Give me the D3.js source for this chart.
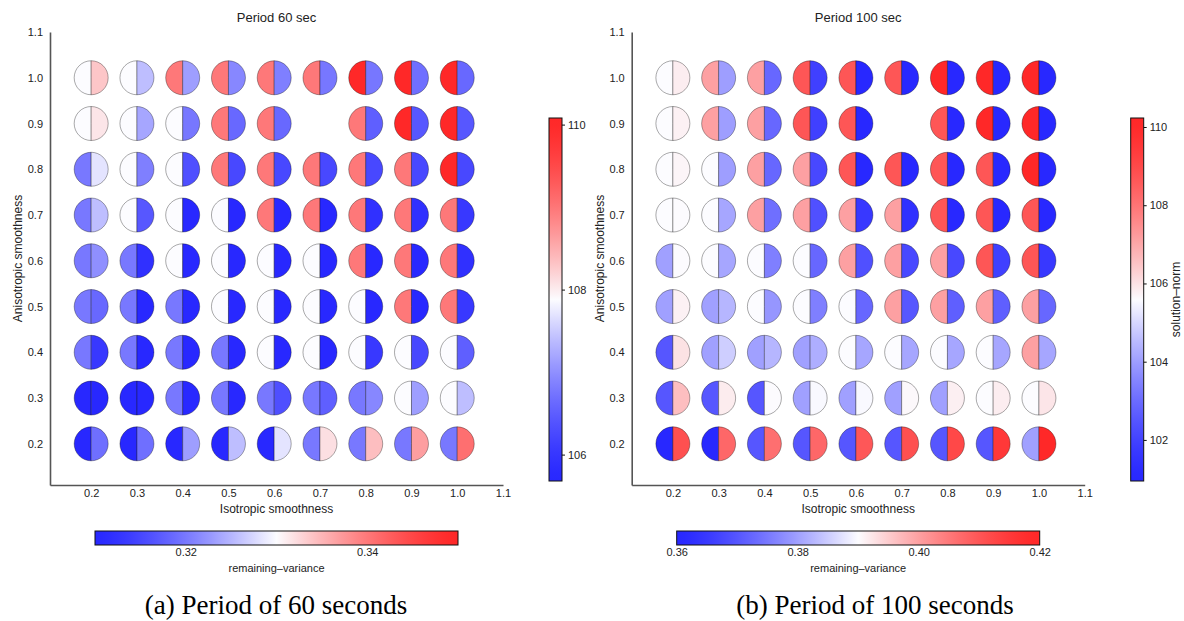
<!DOCTYPE html>
<html><head><meta charset="utf-8">
<script src="https://cdn.jsdelivr.net/npm/d3@7"></script>
<style>
body{margin:0;background:#fff;}
svg{display:block;}
text{font-family:"Liberation Sans",Arial,sans-serif;fill:#222;}
.cap{font-family:"Liberation Serif","Times New Roman",serif;fill:#000;}
</style></head>
<body>
<svg id="chart" width="1184" height="621"></svg>
<script>
// ---------- data ----------
const isoValues = [0.2,0.3,0.4,0.5,0.6,0.7,0.8,0.9,1.0];      // columns (x)
const anisoValues = [1.0,0.9,0.8,0.7,0.6,0.5,0.4,0.3,0.2];    // rows (y), top to bottom
const axisTicks = [0.2,0.3,0.4,0.5,0.6,0.7,0.8,0.9,1.0,1.1];

// Period 60 s : remaining-variance (left half)
const variance60 = [
 [0.33,0.33,0.34,0.34,0.34,0.34,0.35,0.35,0.35],
 [0.33,0.33,0.33,0.34,0.34,null,0.34,0.35,0.35],
 [0.32,0.33,0.33,0.34,0.34,0.34,0.34,0.34,0.35],
 [0.32,0.33,0.33,0.33,0.34,0.34,0.34,0.34,0.34],
 [0.32,0.32,0.33,0.33,0.33,0.33,0.34,0.34,0.34],
 [0.32,0.32,0.32,0.33,0.33,0.33,0.33,0.34,0.34],
 [0.32,0.32,0.32,0.32,0.33,0.33,0.33,0.33,0.33],
 [0.31,0.31,0.32,0.32,0.32,0.32,0.32,0.33,0.33],
 [0.31,0.31,0.31,0.31,0.31,0.32,0.32,0.32,0.32]
];
// Period 60 s : solution-norm (right half)
const norm60 = [
 [108.30,107.40,107.13,106.92,106.84,106.77,106.77,106.69,106.61],
 [108.05,107.20,106.77,106.61,106.61,null,106.52,106.43,106.43],
 [107.70,106.84,106.34,106.25,106.25,106.25,106.25,106.25,106.25],
 [107.40,106.43,105.70,105.70,105.70,105.70,105.89,105.89,106.02],
 [106.99,105.89,105.70,105.70,105.70,105.70,105.70,105.70,105.89],
 [106.61,105.70,105.70,105.70,105.70,105.70,105.70,105.70,106.02],
 [106.02,105.70,105.70,105.70,105.70,105.70,106.02,106.25,106.52],
 [105.70,105.70,105.70,105.70,106.34,106.52,106.92,107.13,107.40],
 [106.69,106.69,107.13,107.40,107.70,108.10,108.36,108.63,109.07]
];
// Period 100 s : remaining-variance (left half)
const variance100 = [
 [0.39,0.40,0.40,0.41,0.41,0.41,0.42,0.42,0.42],
 [0.39,0.40,0.40,0.41,0.41,null,0.41,0.42,0.42],
 [0.39,0.39,0.40,0.40,0.41,0.41,0.41,0.41,0.42],
 [0.39,0.39,0.40,0.40,0.40,0.40,0.41,0.41,0.41],
 [0.38,0.39,0.39,0.39,0.40,0.40,0.40,0.41,0.41],
 [0.38,0.38,0.39,0.39,0.39,0.40,0.40,0.40,0.40],
 [0.37,0.38,0.38,0.38,0.39,0.39,0.39,0.39,0.40],
 [0.37,0.37,0.37,0.38,0.38,0.38,0.38,0.39,0.39],
 [0.36,0.36,0.37,0.37,0.37,0.37,0.37,0.37,0.38]
];
// Period 100 s : solution-norm (right half)
const norm100 = [
 [105.83,104.01,102.90,101.92,101.00,101.00,101.00,101.00,101.00],
 [105.76,104.01,102.90,101.92,101.00,null,101.00,101.00,101.00],
 [105.70,104.01,102.90,102.14,101.00,101.00,101.00,101.00,101.00],
 [105.60,104.15,103.08,102.35,101.67,101.39,101.00,101.00,101.00],
 [105.60,104.15,103.40,102.90,102.35,102.14,102.14,101.92,101.67],
 [105.76,104.43,103.86,103.40,102.90,102.54,102.72,102.72,102.90],
 [106.01,104.84,104.43,104.30,104.15,104.15,104.15,104.15,104.15],
 [106.61,105.85,105.60,105.55,105.55,105.65,105.79,105.83,105.95],
 [108.83,108.28,108.10,108.28,108.64,108.83,109.04,109.51,110.20]
];

const varianceDomain60 = [0.31,0.35];
const varianceTicks60 = [0.32,0.34];
const normDomain60 = [105.68,110.08];
const normTicks60 = [106,108,110];
const varianceDomain100 = [0.36,0.42];
const varianceTicks100 = [0.36,0.38,0.40,0.42];
const normDomain100 = [100.95,110.23];
const normTicks100 = [102,104,106,108,110];

const titles = ["Period 60 sec","Period 100 sec"];
const captions = ["(a) Period of 60 seconds","(b) Period of 100 seconds"];

// ---------- colour map ----------
const BLUE="#2828ff", WHITE="#fcfcff", RED="#ff2828";
const iBlue=d3.interpolateRgb(BLUE,WHITE), iRed=d3.interpolateRgb(RED,WHITE);
function bwr(t){
  t=Math.max(0,Math.min(1,t));
  const g=1.4;
  if(t<0.5) return iBlue(Math.pow(2*t,g));
  return iRed(Math.pow(2*(1-t),g));
}

const panels=[
 {dx:0, title:titles[0], caption:captions[0], capX:276, left:variance60, right:norm60,
  vDom:varianceDomain60, vTicks:varianceTicks60, nDom:normDomain60, nTicks:normTicks60, nLabel:false},
 {dx:581.7, title:titles[1], caption:captions[1], capX:875, left:variance100, right:norm100,
  vDom:varianceDomain100, vTicks:varianceTicks100, nDom:normDomain100, nTicks:normTicks100, nLabel:true}
];

const svg=d3.select("#chart");
const defs=svg.append("defs");
const x=d3.scaleLinear().domain([0.11,1.1]).range([50,503]);
const y=d3.scaleLinear().domain([0.11,1.1]).range([485,32]);
const R=17;
const leftArc=d3.arc().innerRadius(0).outerRadius(R).startAngle(Math.PI).endAngle(2*Math.PI);
const rightArc=d3.arc().innerRadius(0).outerRadius(R).startAngle(0).endAngle(Math.PI);

// gradients
function makeGrad(id,horizontal){
  const g=defs.append("linearGradient").attr("id",id)
    .attr("x1","0%").attr("y1",horizontal?"0%":"100%")
    .attr("x2",horizontal?"100%":"0%").attr("y2","0%");
  d3.range(0,1.0001,0.02).forEach(t=>{
    g.append("stop").attr("offset",(t*100)+"%").attr("stop-color",bwr(t));
  });
}
makeGrad("gradH",true);
makeGrad("gradV",false);

panels.forEach((p,pi)=>{
  const g=svg.append("g").attr("transform",`translate(${p.dx},0)`);
  const cLeft=d3.scaleDiverging(bwr).domain([p.vDom[0],(p.vDom[0]+p.vDom[1])/2,p.vDom[1]]);
  const cRight=d3.scaleDiverging(bwr).domain([p.nDom[0],(p.nDom[0]+p.nDom[1])/2,p.nDom[1]]);

  // title
  g.append("text").attr("x",276.5).attr("y",22).attr("text-anchor","middle")
    .style("font-size","13px").text(p.title);

  // axes
  const ax=g.append("g").attr("transform","translate(0,485)")
    .call(d3.axisBottom(x).tickValues(axisTicks).tickFormat(d3.format(".1f")).tickSize(0).tickPadding(4));
  const ay=g.append("g").attr("transform","translate(50,0)")
    .call(d3.axisLeft(y).tickValues(axisTicks).tickFormat(d3.format(".1f")).tickSize(0).tickPadding(7));
  [ax,ay].forEach(a=>{
    a.select(".domain").attr("stroke","#555").attr("stroke-width",1.6);
    a.selectAll("text").style("font-size","11px").attr("fill","#222")
      .style("font-family","'Liberation Sans',Arial,sans-serif");
  });
  g.append("text").attr("x",276.5).attr("y",513).attr("text-anchor","middle")
    .style("font-size","12px").text("Isotropic smoothness");
  g.append("text").attr("transform","translate(22,258.5) rotate(-90)").attr("text-anchor","middle")
    .style("font-size","12px").text("Anisotropic smoothness");

  // cells
  const cells=[];
  anisoValues.forEach((yv,ri)=>isoValues.forEach((xv,ci)=>{
    const l=p.left[ri][ci], r=p.right[ri][ci];
    if(l!=null && r!=null) cells.push({xv,yv,l,r});
  }));
  const cg=g.selectAll("g.cell").data(cells).join("g").attr("class","cell")
    .attr("transform",d=>`translate(${x(d.xv)},${y(d.yv)})`);
  cg.append("path").attr("d",leftArc()).attr("fill",d=>cLeft(d.l))
    .attr("stroke","rgba(0,0,0,0.42)").attr("stroke-width",0.8);
  cg.append("path").attr("d",rightArc()).attr("fill",d=>cRight(d.r))
    .attr("stroke","rgba(0,0,0,0.42)").attr("stroke-width",0.8);

  // right colourbar (solution-norm)
  const ny=d3.scaleLinear().domain(p.nDom).range([481,118]);
  g.append("rect").attr("x",549).attr("y",118).attr("width",13).attr("height",363)
    .attr("fill","url(#gradV)").attr("stroke","#111").attr("stroke-width",1);
  const nax=g.append("g").attr("transform","translate(562,0)")
    .call(d3.axisRight(ny).tickValues(p.nTicks).tickFormat(d3.format("d")).tickSize(3).tickPadding(3));
  nax.select(".domain").remove();
  nax.selectAll("line").attr("stroke","#111");
  nax.selectAll("text").style("font-size","11px").attr("fill","#222")
    .style("font-family","'Liberation Sans',Arial,sans-serif");
  if(p.nLabel){
    g.append("text").attr("transform","translate(598,299.5) rotate(-90)").attr("text-anchor","middle")
      .style("font-size","12px").text("solution\u2013norm");
  }

  // bottom colourbar (remaining-variance)
  const vx=d3.scaleLinear().domain(p.vDom).range([95,458]);
  g.append("rect").attr("x",95).attr("y",531).attr("width",363).attr("height",14)
    .attr("fill","url(#gradH)").attr("stroke","#111").attr("stroke-width",1);
  const vax=g.append("g").attr("transform","translate(0,545)")
    .call(d3.axisBottom(vx).tickValues(p.vTicks).tickFormat(d3.format(".2f")).tickSize(0).tickPadding(3));
  vax.select(".domain").remove();
  vax.selectAll("text").style("font-size","11px").attr("fill","#222")
    .style("font-family","'Liberation Sans',Arial,sans-serif");
  g.append("text").attr("x",276.5).attr("y",572).attr("text-anchor","middle")
    .style("font-size","11px").text("remaining\u2013variance");

  // caption
  svg.append("text").attr("class","cap").attr("x",p.capX).attr("y",614).attr("text-anchor","middle")
    .style("font-size","27px").text(p.caption);
});
</script>
</body></html>
